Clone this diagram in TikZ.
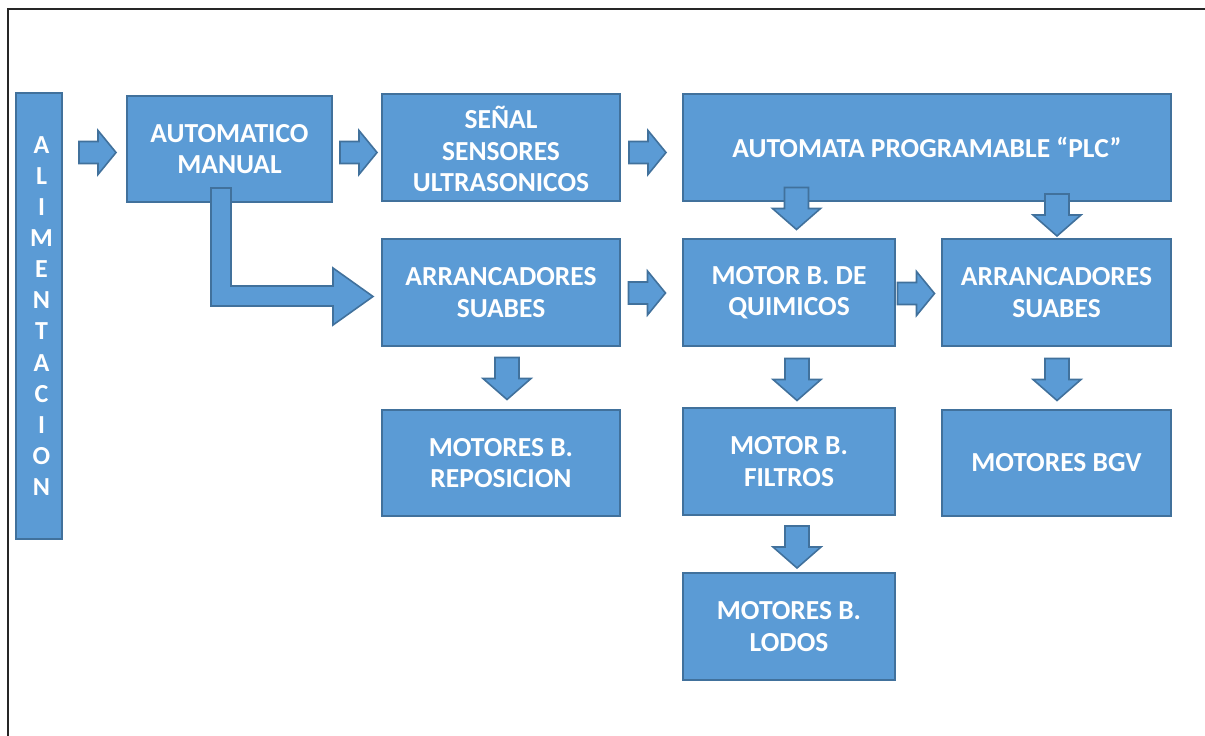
\documentclass[tikz,border=0pt]{standalone}
\usepackage{fontspec}
\newfontfamily\carlito{Carlito}
\definecolor{boxfill}{HTML}{5B9BD5}
\definecolor{boxline}{HTML}{41719C}
\tikzset{
  blk/.style={draw=boxline, fill=boxfill, line width=2pt, text=white,
    font=\carlito\bfseries\fontsize{27.5}{31.5}\selectfont,
    align=center, inner sep=0pt},
  blkarrow/.style={draw=boxline, fill=boxfill, line width=1.6pt, line join=miter},
  rarr/.pic={\draw[blkarrow] (-18.5,-11)--(0.5,-11)--(0.5,-22)--(18.5,0)--(0.5,22)--(0.5,11)--(-18.5,11)--cycle;},
  darr/.pic={\draw[blkarrow] (-12,-21)--(12,-21)--(12,0)--(24,0)--(0,21)--(-24,0)--(-12,0)--cycle;}
}
\begin{document}
\begin{tikzpicture}[x=1pt,y=-1pt]
\useasboundingbox (0,0) rectangle (1205,736);
% page frame
\draw[line width=2pt, black!85] (7.5,736) -- (7.5,8.5) -- (1205,8.5);

% blocks
\node[blk, minimum width=46pt, minimum height=446pt, font=\carlito\bfseries\fontsize{26}{31.1}\selectfont] (alim) at (39,316)
  {\hspace*{5pt}A\\\hspace*{5pt}L\\\hspace*{5pt}I\\\hspace*{5pt}M\\\hspace*{5pt}E\\\hspace*{5pt}N\\\hspace*{5pt}T\\\hspace*{5pt}A\\\hspace*{5pt}C\\\hspace*{5pt}I\\\hspace*{5pt}O\\\hspace*{5pt}N};
\node[blk, minimum width=205pt, minimum height=106pt] (auto) at (229.5,149) {AUTOMATICO\\MANUAL};
\node[blk, minimum width=238pt, minimum height=107pt] (senal) at (501,147.5) {\rule{0pt}{26pt}SEÑAL\\SENSORES\\ULTRASONICOS};
\node[blk, minimum width=488pt, minimum height=107pt] (plc) at (927,147.5) {AUTOMATA PROGRAMABLE “PLC”};
\node[blk, minimum width=238pt, minimum height=107pt] (arr1) at (501,292.5) {ARRANCADORES\\SUABES};
\node[blk, minimum width=212pt, minimum height=107pt] (motq) at (789,292.5) {MOTOR B. DE\\QUIMICOS};
\node[blk, minimum width=229pt, minimum height=107pt] (arr2) at (1056.5,292.5) {ARRANCADORES\\SUABES};
\node[blk, minimum width=238pt, minimum height=106pt] (repos) at (501,463) {MOTORES B.\\REPOSICION};
\node[blk, minimum width=212pt, minimum height=107pt] (filt) at (789,461.5) {MOTOR B.\\FILTROS};
\node[blk, minimum width=229pt, minimum height=106pt] (bgv) at (1056.5,463) {MOTORES BGV};
\node[blk, minimum width=212pt, minimum height=107pt] (lodos) at (789,626.5) {MOTORES B.\\LODOS};

% block arrows to the right
\path (97.5,152.5) pic {rarr};
\path (358.5,152.5) pic {rarr};
\path (647.5,152.5) pic {rarr};
\path (647,293) pic {rarr};
\path (916,293.5) pic {rarr};

% block arrows downwards
\path (796.5,208.5) pic {darr};
\path (1057,215) pic {darr};
\path (507,378.5) pic {darr};
\path (797,379.5) pic {darr};
\path (1057,379.5) pic {darr};
\path (797,547) pic {darr};

% bent arrow from the mode selector to the soft starters
\draw[blkarrow] (211,188) -- (231,188) -- (231,286) -- (333,286) -- (333,268)
  -- (373,296.5) -- (333,325) -- (333,306) -- (211,306) -- cycle;
\end{tikzpicture}
\end{document}
